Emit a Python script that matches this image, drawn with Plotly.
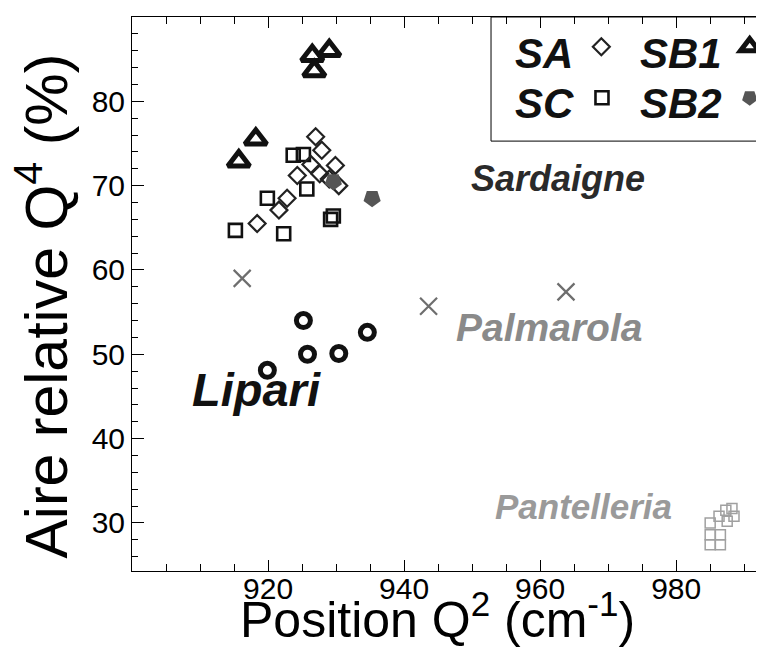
import plotly.graph_objects as go

# ---- data ----
sa_x = [918.4, 921.6, 922.8, 924.3, 927.0, 927.9, 929.9, 927.6, 930.4, 926.3, 929.0]
sa_y = [65.5, 67.1, 68.5, 71.2, 75.8, 74.2, 72.4, 71.4, 70.0, 72.5, 70.8]

sc_x = [915.2, 919.9, 922.3, 923.7, 925.2, 925.7, 929.2, 929.6]
sc_y = [64.7, 68.5, 64.3, 73.6, 73.7, 69.6, 66.0, 66.4]

sb1_x = [926.5, 929.0, 926.8, 918.2, 915.7]
sb1_y = [85.4, 86.0, 83.6, 75.5, 72.9]

sb2_x = [935.3, 929.6]
sb2_y = [68.5, 70.5]

lipari_x = [925.2, 934.6, 925.8, 930.4, 919.9]
lipari_y = [54.0, 52.6, 50.0, 50.1, 48.1]

palmarola_x = [916.2, 943.6, 963.8]
palmarola_y = [59.0, 55.7, 57.4]

pantelleria_x = [985.0, 986.5, 985.0, 986.5, 985.0, 986.3, 987.5, 987.3, 988.2, 988.5]
pantelleria_y = [27.4, 27.4, 28.6, 28.6, 30.0, 30.8, 30.2, 31.5, 31.7, 30.8]

region_names = ["Sardaigne", "Palmarola", "Lipari", "Pantelleria"]
region_x = [962.6, 961.3, 918.3, 966.4]
region_y = [70.8, 53.2, 45.8, 32.0]
region_sizes = [36, 39, 47, 35]
region_colors = ["#2a2a2a", "#8a8a8a", "#111111", "#9a9a9a"]

x_ticks = [920, 940, 960, 980]
y_ticks = [30, 40, 50, 60, 70, 80]
x_range = [900, 993.5]
y_range = [24.3, 90]

legend_labels = ["SA", "SB1", "SC", "SB2"]

font_fam = "Liberation Sans, Arial, sans-serif"

# ---- figure ----
fig = go.Figure()

fig.add_trace(go.Scatter(x=pantelleria_x, y=pantelleria_y, mode="markers", showlegend=False,
                         marker=dict(symbol="square-open", size=10, color="#a0a0a0",
                                     line=dict(width=1.5, color="#a0a0a0"))))
fig.add_trace(go.Scatter(x=palmarola_x, y=palmarola_y, mode="markers", showlegend=False,
                         marker=dict(symbol="x-thin-open", size=17, color="#6e6e6e",
                                     line=dict(width=2.2, color="#6e6e6e"))))
fig.add_trace(go.Scatter(x=lipari_x, y=lipari_y, mode="markers", showlegend=False,
                         marker=dict(symbol="circle-open", size=14, color="#111",
                                     line=dict(width=5, color="#111"))))
fig.add_trace(go.Scatter(x=sc_x, y=sc_y, mode="markers", name="", legend="legend3",
                         marker=dict(symbol="square-open", size=13, color="#111",
                                     line=dict(width=2.6, color="#111"))))
fig.add_trace(go.Scatter(x=sa_x, y=sa_y, mode="markers", name="", legend="legend",
                         marker=dict(symbol="diamond-open", size=13, color="#222",
                                     line=dict(width=2.2, color="#222"))))
fig.add_trace(go.Scatter(x=sb1_x, y=sb1_y, mode="markers", name="", legend="legend2",
                         marker=dict(symbol="triangle-up-open", size=19, color="#111",
                                     line=dict(width=5, color="#111"))))
fig.add_trace(go.Scatter(x=sb2_x, y=sb2_y, mode="markers", name="", legend="legend4",
                         marker=dict(symbol="pentagon", angle=180, size=18, color="#555",
                                     line=dict(width=0))))

for name, x, y, s, c in zip(region_names, region_x, region_y, region_sizes, region_colors):
    fig.add_annotation(x=x, y=y, xref="x", yref="y", text=f"<b><i>{name}</i></b>",
                       showarrow=False, font=dict(family=font_fam, size=s, color=c))

# axis titles
fig.add_annotation(x=0.4796, y=-0.1425, xref="paper", yref="paper", xanchor="center", yanchor="bottom",
                   text="Position Q<sup>2</sup> (cm<sup>-1</sup>)", showarrow=False,
                   font=dict(family=font_fam, size=50, color="black"))
fig.add_annotation(x=-0.141, y=0.478, xref="paper", yref="paper", xanchor="center", yanchor="middle",
                   textangle=-90, text="Aire relative Q<sup>4</sup> (%)", showarrow=False,
                   font=dict(family=font_fam, size=59, color="black"))

# legend frame
fig.add_shape(type="rect", xref="paper", yref="paper", x0=0.5645, x1=1.0, y0=0.776, y1=1.0,
              line=dict(color="black", width=1), fillcolor="white", layer="below")

leg_x = [0.599, 0.7956, 0.599, 0.7956]
leg_y = [0.946, 0.946, 0.854, 0.854]
leg_keys = ["legend", "legend2", "legend3", "legend4"]
leg_conf = {}
for key, lab, lx, ly in zip(leg_keys, legend_labels, leg_x, leg_y):
    leg_conf[key] = dict(
        title=dict(text=f"<b><i>{lab}</i></b>", side="left",
                   font=dict(family=font_fam, size=42, color="#111")),
        x=lx, y=ly, xanchor="left", yanchor="middle", orientation="h", valign="middle",
        bgcolor="rgba(0,0,0,0)", borderwidth=0, itemwidth=30,
        font=dict(family=font_fam, size=42), tracegroupgap=0)

fig.update_layout(
    width=764, height=652,
    margin=dict(l=124, r=4, t=9, b=89, autoexpand=False),
    paper_bgcolor="white", plot_bgcolor="white",
    showlegend=True,
    font=dict(family=font_fam, color="black"),
    **leg_conf,
)
fig.update_xaxes(range=x_range, tickvals=x_ticks, ticks="inside", ticklen=11, tickwidth=1,
                 tickcolor="black", showline=True, linecolor="black", linewidth=1,
                 mirror="ticks", showgrid=False, zeroline=False, ticklabelstandoff=-9,
                 tickfont=dict(size=30, family=font_fam),
                 minor=dict(dtick=5, tick0=900, ticks="inside", ticklen=7, tickcolor="black", showgrid=False))
fig.update_yaxes(range=y_range, tickvals=y_ticks, ticks="inside", ticklen=12, tickwidth=1,
                 tickcolor="black", showline=True, linecolor="black", linewidth=1,
                 mirror="ticks", showgrid=False, zeroline=False,
                 tickfont=dict(size=30, family=font_fam),
                 minor=dict(dtick=2, tick0=0, ticks="inside", ticklen=6, tickcolor="black", showgrid=False))

fig.write_html("out.html")
